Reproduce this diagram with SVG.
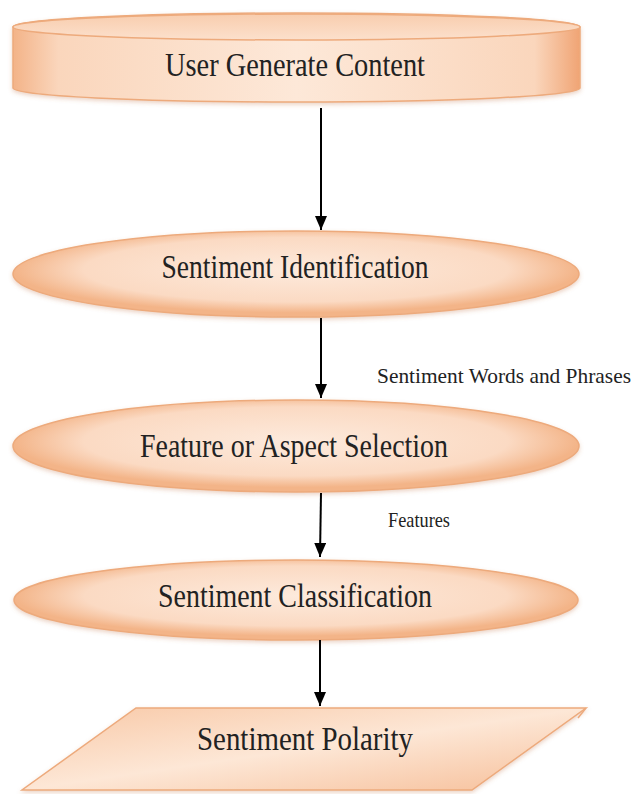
<svg xmlns="http://www.w3.org/2000/svg" width="637" height="794" viewBox="0 0 637 794">
<defs>
<radialGradient id="eg" cx="50%" cy="45%" r="50%">
<stop offset="0" stop-color="#FDEADC"/>
<stop offset="0.75" stop-color="#FBDAC3"/>
<stop offset="1" stop-color="#F3B488"/>
</radialGradient>
<linearGradient id="cg" x1="0" y1="0" x2="1" y2="0">
<stop offset="0" stop-color="#F3B388"/>
<stop offset="0.08" stop-color="#FAD6BC"/>
<stop offset="0.5" stop-color="#FDE8D8"/>
<stop offset="0.92" stop-color="#FAD6BC"/>
<stop offset="1" stop-color="#F0A474"/>
</linearGradient>
<linearGradient id="tg" x1="0" y1="0" x2="0" y2="1">
<stop offset="0" stop-color="#F8CDAE"/>
<stop offset="1" stop-color="#FCE0CC"/>
</linearGradient>
<linearGradient id="pg" x1="0" y1="0" x2="1" y2="1">
<stop offset="0" stop-color="#F8C8A6"/>
<stop offset="0.5" stop-color="#FDE7D6"/>
<stop offset="1" stop-color="#F6BE98"/>
</linearGradient>
<filter id="sh" x="-5%" y="-20%" width="110%" height="140%">
<feDropShadow dx="0" dy="2" stdDeviation="2" flood-color="#C07040" flood-opacity="0.3"/>
</filter>
<marker id="ah" viewBox="0 0 14 12" refX="14" refY="6" markerWidth="14" markerHeight="12" markerUnits="userSpaceOnUse" orient="auto">
<path d="M0,0 L14,6 L0,12 Z" fill="#000"/>
</marker>
</defs>
<style>
.lbl{font-family:"Liberation Serif","Times New Roman",serif;fill:#222;}
.big{font-size:34px;}
.sm{font-size:21px;}
.edge{stroke:#EDAA7C;stroke-width:1.5;}
.conn line{stroke:#000;stroke-width:2;marker-end:url(#ah);}
</style>

<g id="user-generate-content">
<path d="M13,27 A283.5,14 0 0 1 580,27 L580,88 A283.5,14 0 0 1 13,88 Z" fill="url(#cg)" class="edge" filter="url(#sh)"/>
<ellipse cx="296.5" cy="27" rx="283.5" ry="13" fill="url(#tg)" class="edge"/>
<text class="lbl big" x="295" y="76" text-anchor="middle" textLength="260" lengthAdjust="spacingAndGlyphs">User Generate Content</text>
</g>

<g id="sentiment-identification">
<ellipse cx="296" cy="274" rx="283" ry="43" fill="url(#eg)" class="edge" filter="url(#sh)"/>
<text class="lbl big" x="295" y="278" text-anchor="middle" textLength="267" lengthAdjust="spacingAndGlyphs">Sentiment Identification</text>
</g>

<g id="feature-aspect-selection">
<ellipse cx="296" cy="446" rx="283" ry="46" fill="url(#eg)" class="edge" filter="url(#sh)"/>
<text class="lbl big" x="294" y="457" text-anchor="middle" textLength="308" lengthAdjust="spacingAndGlyphs">Feature or Aspect Selection</text>
</g>

<g id="sentiment-classification">
<ellipse cx="296" cy="600" rx="282" ry="40" fill="url(#eg)" class="edge" filter="url(#sh)"/>
<text class="lbl big" x="295" y="607" text-anchor="middle" textLength="274" lengthAdjust="spacingAndGlyphs">Sentiment Classification</text>
</g>

<g id="sentiment-polarity">
<path d="M136,708 L586,708 L472,790 L22,790 Z" fill="url(#pg)" class="edge" filter="url(#sh)"/>
<path d="M586,708 L578,718" fill="none" stroke="#EDAA7C" stroke-width="1.5"/>
<text class="lbl big" x="305" y="750" text-anchor="middle" textLength="216" lengthAdjust="spacingAndGlyphs">Sentiment Polarity</text>
</g>

<g id="connectors" class="conn">
<line x1="321" y1="108" x2="321" y2="230"/>
<line x1="321" y1="318" x2="321" y2="398"/>
<line x1="321" y1="493" x2="320" y2="557"/>
<line x1="320" y1="640" x2="320" y2="706"/>
<text class="lbl sm" x="377" y="383" textLength="254" lengthAdjust="spacingAndGlyphs">Sentiment Words and Phrases</text>
<text class="lbl sm" x="388" y="527" textLength="62" lengthAdjust="spacingAndGlyphs">Features</text>
</g>
</svg>
